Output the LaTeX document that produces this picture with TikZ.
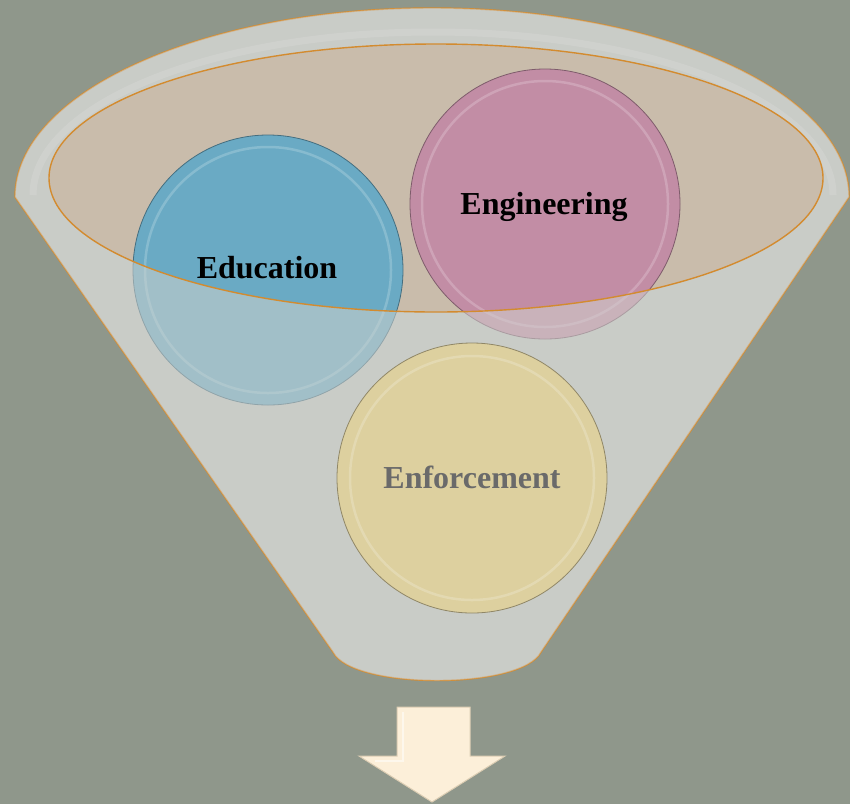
\documentclass[tikz,border=0pt]{standalone}
\usepackage{fontspec}
\setmainfont{Liberation Serif}
\definecolor{bg}{HTML}{8F978B}
\definecolor{funnelgray}{HTML}{C3C6C1}
\definecolor{wallgray}{HTML}{CFD1CD}
\definecolor{innertan}{HTML}{C9BCAB}
\definecolor{orangeline}{HTML}{D38B2F}
\definecolor{edublue}{HTML}{6AAAC4}
\definecolor{engpink}{HTML}{C28DA5}
\definecolor{enfkhaki}{HTML}{DDD09F}
\definecolor{arrowcream}{HTML}{FCEFD9}
\definecolor{arrowedge}{HTML}{DCCDB3}
\definecolor{enftext}{HTML}{6A6A6A}
\begin{document}
\begin{tikzpicture}[x=1pt,y=-1pt,
  rim/.style={draw=orangeline, line width=1.4pt},
  ball/.style={circle, minimum size=270pt, inner sep=0pt, fill=#1, draw=#1!65!black, line width=0.8pt},
  ballring/.style={draw=white, draw opacity=0.2, line width=2.5pt},
  label/.style={font=\bfseries\fontsize{32}{36}\selectfont, anchor=base, inner sep=0pt},
  frontwall/.style={fill=wallgray, fill opacity=0.55},
  arrowshape/.style={fill=arrowcream, draw=arrowedge, line width=1pt, line join=miter}]
\useasboundingbox (0,0) rectangle (850,804);
\fill[bg] (0,0) rectangle (850,804);
% funnel body
\path[fill=funnelgray, rim] (15,197) arc[start angle=180, end angle=0, x radius=417pt, y radius=189pt]
  -- (541,652) .. controls (522,690) and (352,690) .. (333,652) -- cycle;
% rim highlight
\draw[white, draw opacity=0.22, line width=7pt] (33,195) arc[start angle=180, end angle=0, x radius=400pt, y radius=163pt];
% inner opening
\path[fill=innertan] (436,178) ellipse[x radius=387pt, y radius=134pt];
% circles inside the funnel
\node[ball=edublue] (edu) at (268,270) {};
\draw[ballring] (edu.center) circle[radius=123pt];
\node[ball=engpink] (eng) at (545,204) {};
\draw[ballring] (eng.center) circle[radius=123pt];
% translucent front wall
\fill[frontwall, even odd rule] (15,197) arc[start angle=180, end angle=0, x radius=417pt, y radius=189pt]
  -- (541,652) .. controls (522,690) and (352,690) .. (333,652) -- cycle
  (436,178) ellipse[x radius=387pt, y radius=134pt];
\draw[rim] (436,178) ellipse[x radius=387pt, y radius=134pt];
% enforcement circle
\node[ball=enfkhaki] (enf) at (472,478) {};
\draw[ballring] (enf.center) circle[radius=122pt];
% labels
\node[label] (tedu) at (267,278) {Education};
\node[label] (teng) at (544,214) {Engineering};
\node[label, text=enftext] (tenf) at (472,488) {Enforcement};
% down arrow
\path[arrowshape] (397,707) -- (470,707) -- (470,756) -- (505,756) -- (432,802) -- (359,756) -- (397,756) -- cycle;
\draw[white, draw opacity=0.5, line width=1.2pt] (403,712) -- (403,761) -- (375,761);
\end{tikzpicture}
\end{document}
